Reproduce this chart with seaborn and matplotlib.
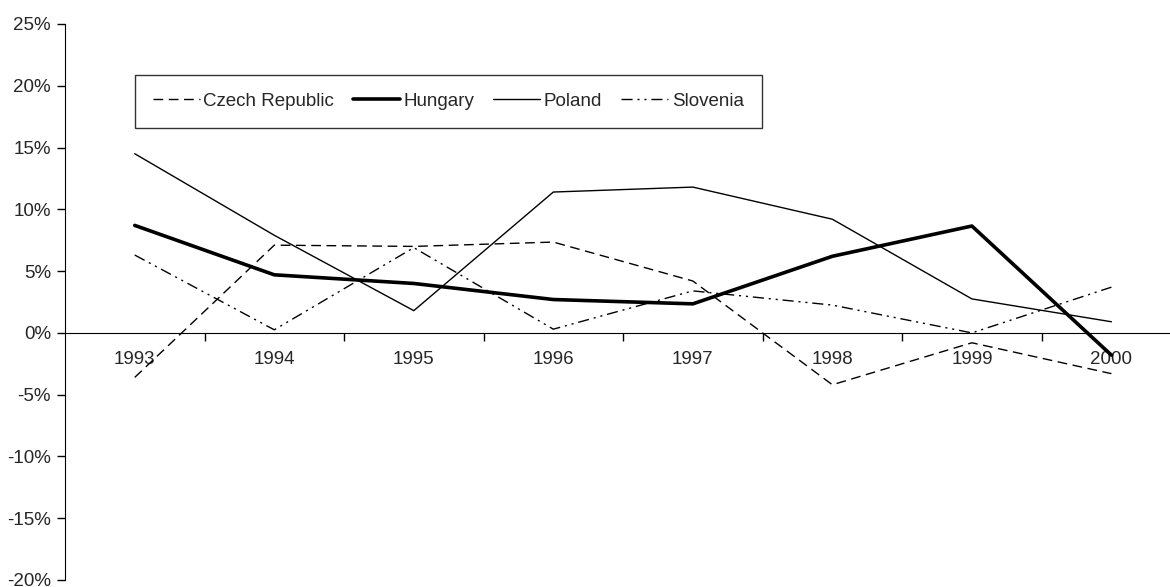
import numpy as np
import pandas as pd
import seaborn as sns
import matplotlib.pyplot as plt
from matplotlib.ticker import FuncFormatter, FixedLocator

sns.set_style("white")
plt.rcParams['font.family'] = ['Liberation Sans', 'DejaVu Sans']

years = ['1993', '1994', '1995', '1996', '1997', '1998', '1999', '2000']
czech = [-3.6, 7.1, 7.0, 7.35, 4.2, -4.2, -0.8, -3.3]
hungary = [8.7, 4.7, 4.0, 2.7, 2.35, 6.2, 8.65, -1.8]
poland = [14.5, 7.9, 1.8, 11.4, 11.8, 9.2, 2.75, 0.9]
slovenia = [6.3, 0.25, 6.9, 0.3, 3.4, 2.25, 0.0, 3.7]

series = {'Czech Republic': czech, 'Hungary': hungary,
          'Poland': poland, 'Slovenia': slovenia}
styles = {'Czech Republic': ((0, (7, 4)), 1.0),
          'Hungary': ('-', 2.6),
          'Poland': ('-', 1.0),
          'Slovenia': ((0, (8, 3.5, 1.5, 3.5, 1.5, 3.5)), 1.0)}

rows = []
for name, vals in series.items():
    for i, v in enumerate(vals):
        rows.append({'pos': i, 'year': years[i], 'country': name, 'value': v})
df = pd.DataFrame(rows)

fig = plt.figure(figsize=(11.7, 5.87), dpi=100)
ax = fig.add_axes([65 / 1170, 7 / 587, 1105 / 1170, 556 / 587])

for name in series:
    ls, lw = styles[name]
    sub = df[df['country'] == name]
    sns.lineplot(data=sub, x='pos', y='value', ax=ax, color='black',
                 linestyle=ls, linewidth=lw, label=name)

ax.set_ylim(-20, 25)
ax.set_xlim(-0.5, 7.42)
ax.set_yticks(np.arange(-20, 26, 5))
ax.yaxis.set_major_formatter(FuncFormatter(lambda v, p: f"{v:.0f}%"))
ax.tick_params(axis='y', direction='out', length=6, width=1, color='black',
               labelsize=13.5, pad=4, left=True)

ax.xaxis.set_major_locator(FixedLocator(range(len(years))))
ax.set_xticklabels(years)
ax.xaxis.set_minor_locator(FixedLocator(np.arange(0.5, 7.5, 1)))
ax.tick_params(axis='x', which='major', length=0, labelsize=13.5, pad=13)
ax.tick_params(axis='x', which='minor', direction='out', length=6, width=1,
               color='black', bottom=True)

for s in ['top', 'right']:
    ax.spines[s].set_visible(False)
ax.spines['bottom'].set_position(('data', 0))
ax.spines['left'].set_color('black')
ax.spines['bottom'].set_color('black')
ax.set_xlabel('')
ax.set_ylabel('')

leg = ax.legend(loc='upper left', bbox_to_anchor=(70 / 1105, 1 - 51 / 556),
                borderaxespad=0, ncol=4, frameon=True, fancybox=False,
                fontsize=13.5, handlelength=2.5, handletextpad=0.2,
                columnspacing=1.0, borderpad=0.95)
leg.get_frame().set_edgecolor('black')
leg.get_frame().set_linewidth(1.0)

fig.savefig('out.png', dpi=100)
